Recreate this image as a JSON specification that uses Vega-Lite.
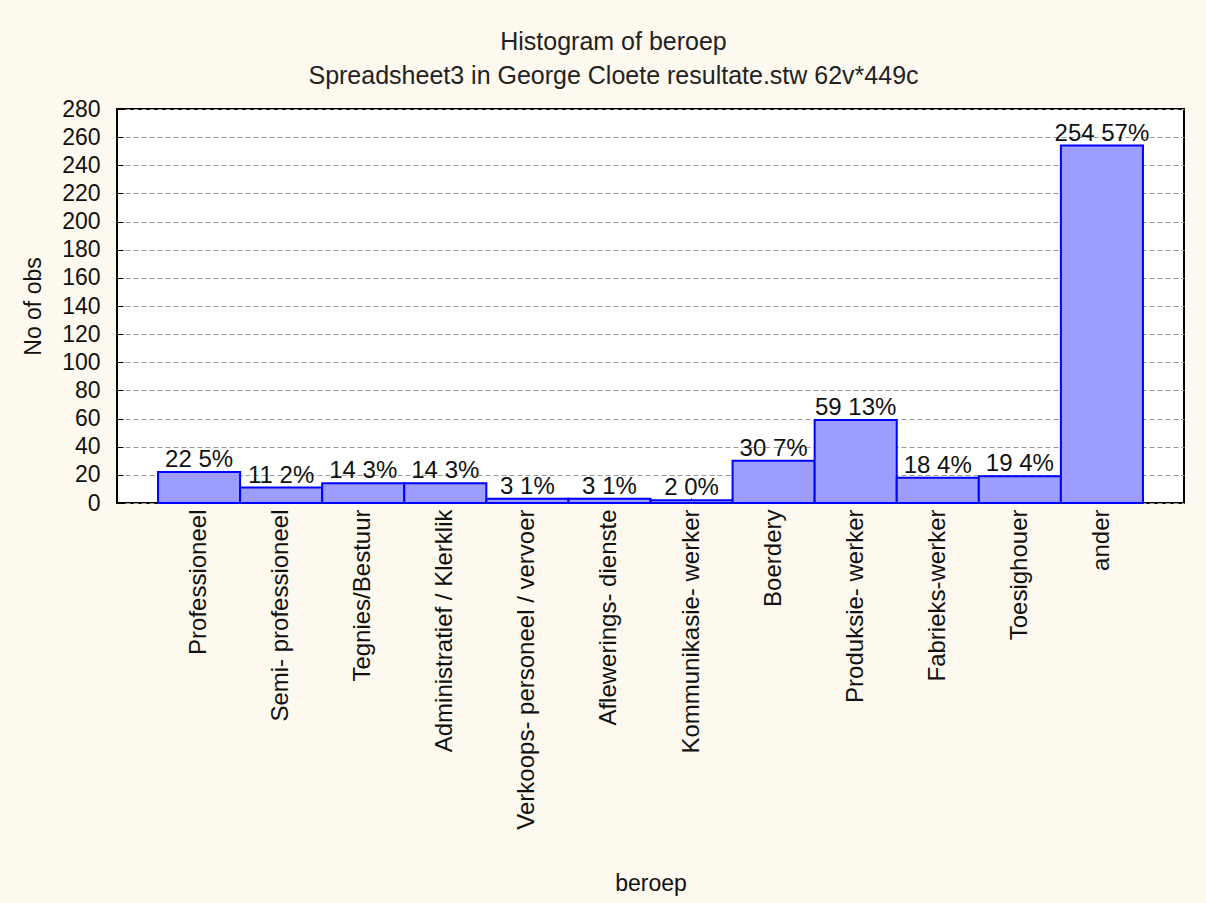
{
  "$schema": "https://vega.github.io/schema/vega-lite/v6.json",
  "autosize": "none",
  "width": 1067,
  "height": 394,
  "padding": {"left": 117, "top": 109, "right": 22, "bottom": 400},
  "background": "#fef9ee",
  "title": {
    "text": "Histogram of beroep",
    "subtitle": "Spreadsheet3 in George Cloete resultate.stw 62v*449c",
    "anchor": "middle",
    "dx": -37,
    "offset": 9,
    "subtitlePadding": 9,
    "font": "Liberation Sans",
    "fontSize": 25,
    "fontWeight": "normal",
    "color": "#222222",
    "subtitleFont": "Liberation Sans",
    "subtitleFontSize": 25,
    "subtitleColor": "#222222"
  },
  "config": {
    "view": {"stroke": "#000000", "strokeWidth": 2, "fill": "#ffffff"},
    "axis": {
      "labelFont": "Liberation Sans",
      "titleFont": "Liberation Sans",
      "labelFontSize": 23,
      "titleFontSize": 23,
      "titleFontWeight": "normal",
      "labelColor": "#111111",
      "titleColor": "#111111",
      "domain": false,
      "tickColor": "#000000",
      "labelLimit": 500
    }
  },
  "data": {
    "values": [
      {"beroep": "Professioneel", "count": 22, "label": "22 5%"},
      {"beroep": "Semi- professioneel", "count": 11, "label": "11 2%"},
      {"beroep": "Tegnies/Bestuur", "count": 14, "label": "14 3%"},
      {"beroep": "Administratief / Klerklik", "count": 14, "label": "14 3%"},
      {"beroep": "Verkoops- personeel / vervoer", "count": 3, "label": "3 1%"},
      {"beroep": "Aflewerings- dienste", "count": 3, "label": "3 1%"},
      {"beroep": "Kommunikasie- werker", "count": 2, "label": "2 0%"},
      {"beroep": "Boerdery", "count": 30, "label": "30 7%"},
      {"beroep": "Produksie- werker", "count": 59, "label": "59 13%"},
      {"beroep": "Fabrieks-werker", "count": 18, "label": "18 4%"},
      {"beroep": "Toesighouer", "count": 19, "label": "19 4%"},
      {"beroep": "ander", "count": 254, "label": "254 57%"}
    ]
  },
  "encoding": {
    "x": {
      "field": "beroep",
      "type": "nominal",
      "sort": null,
      "scale": {"paddingInner": 0, "paddingOuter": 0.5},
      "axis": {
        "title": "beroep",
        "labelAngle": -90,
        "labelAlign": "right",
        "labelBaseline": "middle",
        "labelFontSize": 24,
        "labelPadding": 11,
        "tickSize": -5,
        "titleY": 369,
        "titleBaseline": "top",
        "grid": false
      }
    },
    "y": {
      "field": "count",
      "type": "quantitative",
      "scale": {"domain": [0, 280], "nice": false},
      "axis": {
        "title": "No of obs",
        "values": [0, 20, 40, 60, 80, 100, 120, 140, 160, 180, 200, 220, 240, 260, 280],
        "tickSize": -6,
        "labelPadding": 23,
        "titlePadding": 16,
        "grid": true,
        "gridColor": "#999999",
        "gridDash": [5, 3],
        "gridWidth": 1
      }
    }
  },
  "layer": [
    {
      "mark": {"type": "bar", "fill": "#9d9dff", "stroke": "#0000ff", "strokeWidth": 2}
    },
    {
      "mark": {
        "type": "text",
        "baseline": "alphabetic",
        "dy": -5,
        "font": "Liberation Sans",
        "fontSize": 24,
        "color": "#111111"
      },
      "encoding": {"text": {"field": "label"}}
    }
  ]
}
